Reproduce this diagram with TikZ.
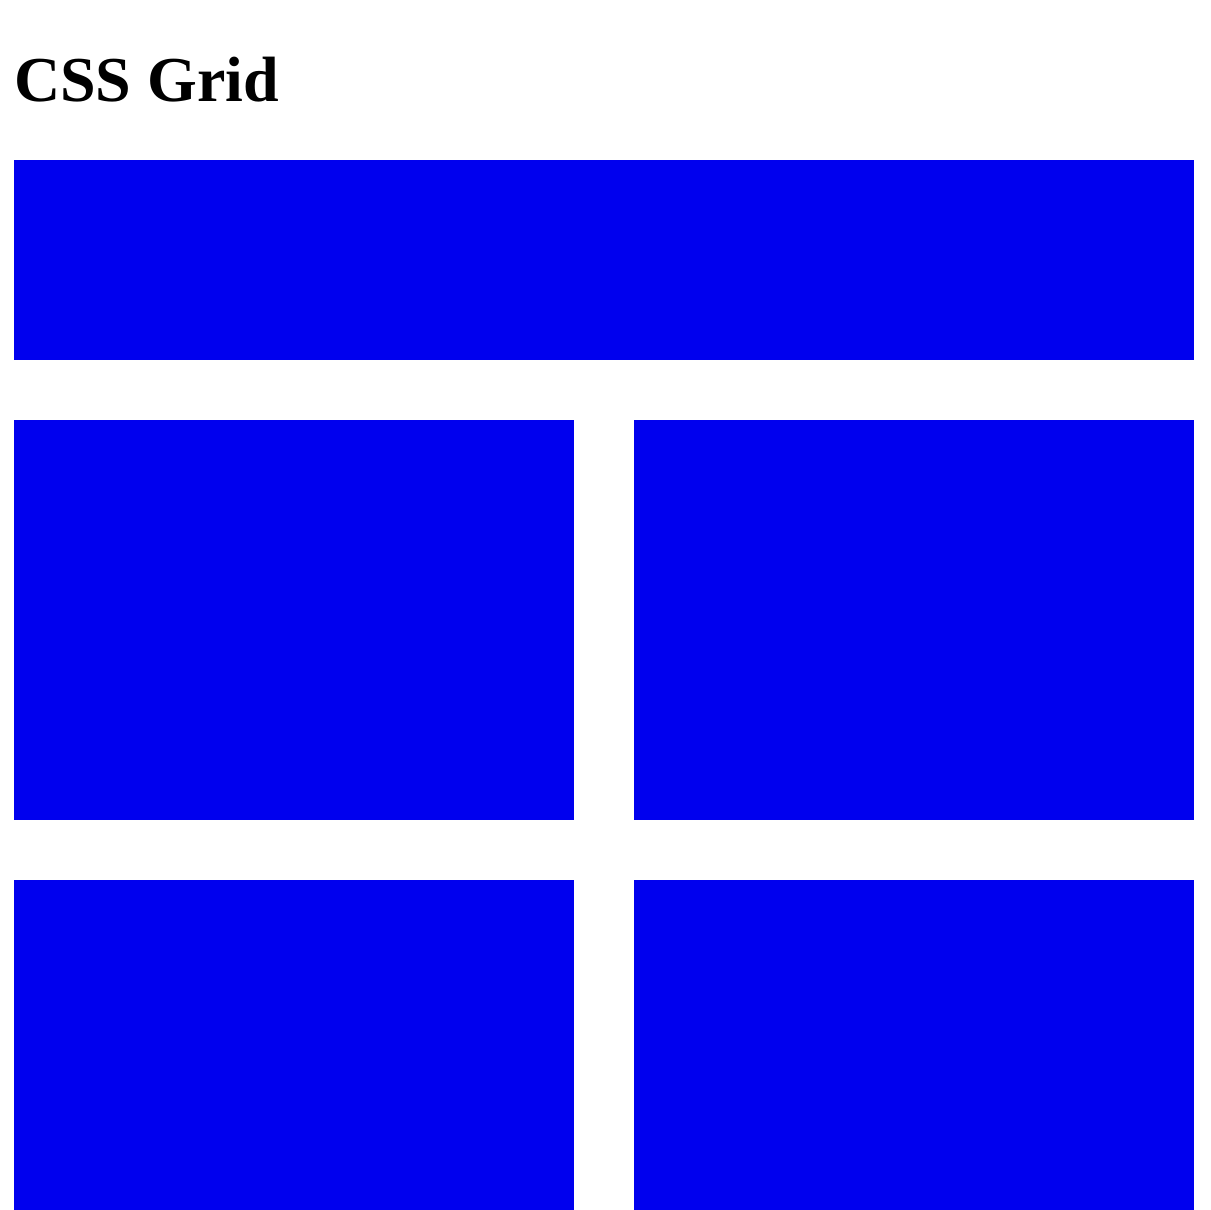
\documentclass[tikz,border=0pt]{standalone}
\usepackage{fontspec}
\setmainfont{Liberation Serif}
\definecolor{cellblue}{RGB}{0,0,238}
\begin{document}
\begin{tikzpicture}[x=1pt,y=-1pt,
  cell/.style={fill=cellblue,draw=none}]
\useasboundingbox (0,0) rectangle (1210,1210);
\fill[white] (0,0) rectangle (1210,1210);
\node (title) [anchor=base west,inner sep=0pt,font=\fontsize{64}{64}\selectfont\bfseries] at (14,101) {CSS Grid};
\path[cell] (14,160) rectangle (1194,360);
\path[cell] (14,420) rectangle (574,820);
\path[cell] (634,420) rectangle (1194,820);
\path[cell] (14,880) rectangle (574,1210);
\path[cell] (634,880) rectangle (1194,1210);
\end{tikzpicture}
\end{document}
